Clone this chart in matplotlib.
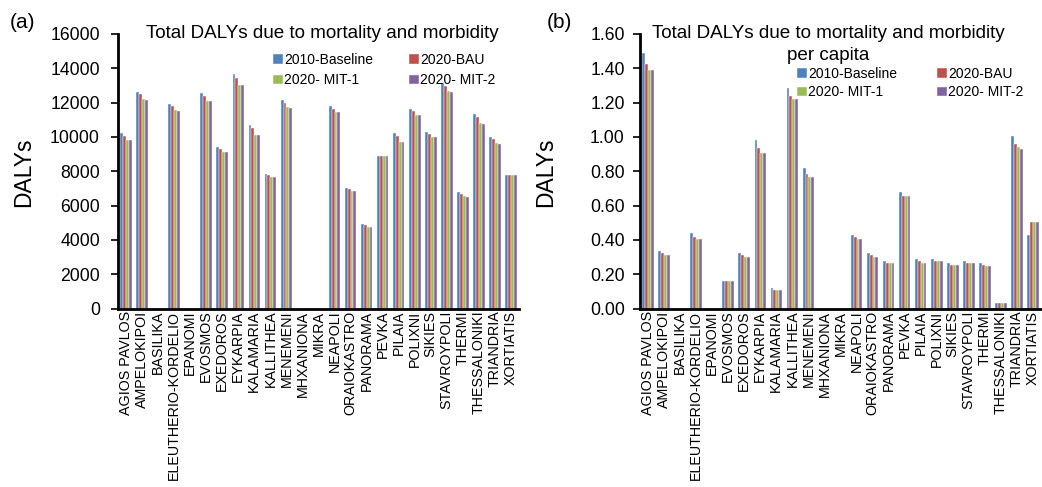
import matplotlib
matplotlib.use("Agg")
import matplotlib.pyplot as plt
import numpy as np

plt.rcParams['font.family'] = ['Liberation Sans', 'DejaVu Sans']

categories = ["AGIOS PAVLOS", "AMPELOKIPOI", "BASILIKA", "ELEUTHERIO-KORDELIO", "EPANOMI",
              "EVOSMOS", "EXEDOROS", "EYKARPIA", "KALAMARIA", "KALLITHEA", "MENEMENI",
              "MHXANIONA", "MIKRA", "NEAPOLI", "ORAIOKASTRO", "PANORAMA", "PEVKA", "PILAIA",
              "POLIXNI", "SIKIES", "STAVROYPOLI", "THERMI", "THESSALONIKI", "TRIANDRIA", "XORTIATIS"]
series_names = ["2010-Baseline", "2020-BAU", "2020- MIT-1", "2020- MIT-2"]
colors = ["#4F81BD", "#C0504D", "#9BBB59", "#8064A2"]

# Total DALYs (panel a); 0 = no bar
total_2010 = [10230, 12610, 0, 11920, 0, 12550, 9420, 13660, 10700, 7830, 12130, 0, 0,
              11780, 7040, 4930, 8880, 10230, 11620, 10270, 13150, 6770, 11330, 10020, 7780]
total_bau = [10080, 12500, 0, 11780, 0, 12380, 9320, 13440, 10500, 7780, 11990, 0, 0,
             11640, 6960, 4850, 8880, 10060, 11490, 10170, 12980, 6670, 11160, 9880, 7780]
total_mit1 = [9850, 12200, 0, 11550, 0, 12110, 9150, 13040, 10120, 7680, 11720, 0, 0,
              11450, 6870, 4760, 8880, 9730, 11280, 10000, 12650, 6540, 10810, 9630, 7780]
total_mit2 = [9830, 12170, 0, 11530, 0, 12090, 9130, 13020, 10100, 7660, 11680, 0, 0,
              11430, 6850, 4760, 8880, 9730, 11260, 9980, 12630, 6520, 10770, 9590, 7780]

# DALYs per capita (panel b)
pc_2010 = [1.489, 0.334, 0, 0.441, 0, 0.159, 0.322, 0.983, 0.117, 1.283, 0.821, 0, 0,
           0.429, 0.322, 0.278, 0.680, 0.289, 0.289, 0.268, 0.278, 0.268, 0.031, 1.004, 0.429]
pc_bau = [1.425, 0.322, 0, 0.419, 0, 0.159, 0.311, 0.938, 0.107, 1.241, 0.786, 0, 0,
          0.417, 0.311, 0.268, 0.658, 0.278, 0.278, 0.256, 0.268, 0.256, 0.031, 0.959, 0.505]
pc_mit1 = [1.392, 0.311, 0, 0.408, 0, 0.159, 0.301, 0.905, 0.107, 1.219, 0.767, 0, 0,
           0.406, 0.301, 0.268, 0.658, 0.268, 0.278, 0.256, 0.268, 0.245, 0.031, 0.940, 0.505]
pc_mit2 = [1.392, 0.311, 0, 0.408, 0, 0.159, 0.301, 0.905, 0.107, 1.219, 0.767, 0, 0,
           0.406, 0.301, 0.268, 0.658, 0.268, 0.278, 0.256, 0.268, 0.245, 0.031, 0.928, 0.505]

W, H = 1042, 487
fig = plt.figure(figsize=(W / 100, H / 100), dpi=100)

def fx(px):
    return px / W

def fy(py):
    return 1 - py / H

bottom = fy(308.5)
height = (308.5 - 34) / H
axL = fig.add_axes([fx(118), bottom, (519 - 118) / W, height])
axR = fig.add_axes([fx(640), bottom, (1041 - 640) / W, height])

x = np.arange(len(categories))
bw = 0.18
offsets = [-1.5, -0.5, 0.5, 1.5]

def draw(ax, data, ymax, step, fmt, pad):
    handles = []
    for k, (vals, c, name) in enumerate(zip(data, colors, series_names)):
        b = ax.bar(x + offsets[k] * bw, vals, width=bw, color=c, edgecolor='white',
                   linewidth=0.3, label=name)
        handles.append(b)
    ax.set_xlim(-0.5, len(categories) - 0.5)
    ax.set_ylim(0, ymax)
    ticks = np.arange(0, ymax + step / 2, step)
    ax.set_yticks(ticks)
    ax.set_yticklabels([fmt(v) for v in ticks], fontsize=12.7)
    ax.set_xticks(x)
    ax.set_xticklabels(categories, rotation=90, fontsize=10.3)
    ax.tick_params(axis='x', length=0, pad=1.5)
    ax.tick_params(axis='y', direction='out', length=5, width=1.2, pad=pad)
    for s in ['top', 'right']:
        ax.spines[s].set_visible(False)
    for s in ['left', 'bottom']:
        ax.spines[s].set_linewidth(2)
    ax.set_ylabel("DALYs", fontsize=16.5)
    return handles

hL = draw(axL, [total_2010, total_bau, total_mit1, total_mit2], 16000, 2000,
          lambda v: f"{int(v)}", 8)
hR = draw(axR, [pc_2010, pc_bau, pc_mit1, pc_mit2], 1.6, 0.2,
          lambda v: f"{v:.2f}", 6)

axL.yaxis.set_label_coords(fx(35), fy(172), transform=fig.transFigure)
axR.yaxis.set_label_coords(fx(557), fy(172), transform=fig.transFigure)

fig.text(fx(322.5), fy(34), "Total DALYs due to mortality and morbidity",
         ha='center', va='center', fontsize=13.6)
fig.text(fx(828), fy(34), "Total DALYs due to mortality and morbidity",
         ha='center', va='center', fontsize=13.6)
fig.text(fx(828), fy(56), "per capita", ha='center', va='center', fontsize=13.6)

fig.text(fx(10), fy(22), "(a)", ha='left', va='center', fontsize=15)
fig.text(fx(547), fy(22), "(b)", ha='left', va='center', fontsize=15)

order = [0, 2, 1, 3]  # row-wise filling: Baseline, BAU / MIT-1, MIT-2
leg_kw = dict(ncol=2, frameon=False, fontsize=10, handlelength=0.7, handleheight=0.7,
              handletextpad=0.1, borderpad=0, borderaxespad=0, loc='upper left',
              bbox_transform=fig.transFigure)
axL.legend([hL[i] for i in order], [series_names[i] for i in order],
           bbox_to_anchor=(fx(273), fy(53)), columnspacing=2.6, labelspacing=0.45, **leg_kw)
axR.legend([hR[i] for i in order], [series_names[i] for i in order],
           bbox_to_anchor=(fx(797), fy(67)), columnspacing=2.9, labelspacing=0.32, **leg_kw)

fig.savefig("out.png", dpi=100)
